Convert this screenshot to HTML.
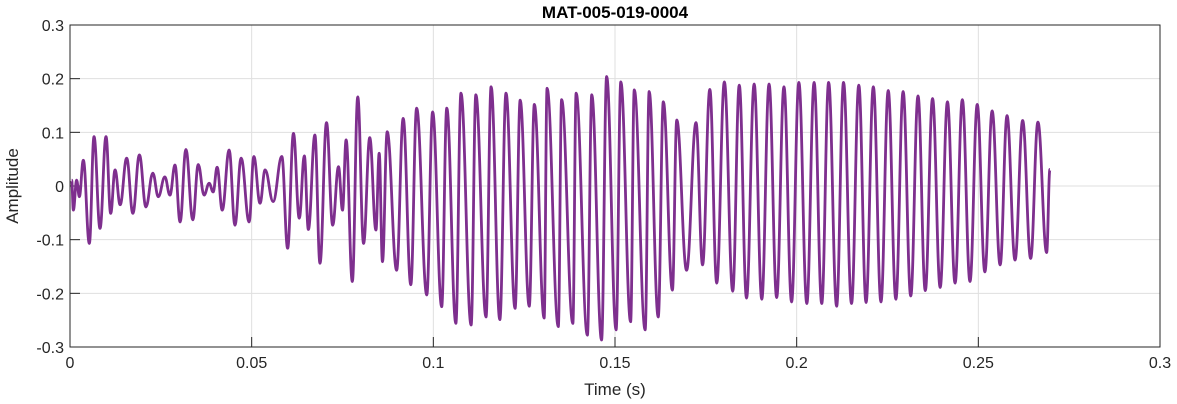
<!DOCTYPE html>
<html><head><meta charset="utf-8"><style>
body{margin:0;background:#fff;}
svg{display:block;font-family:"Liberation Sans",Arial,sans-serif;}
</style></head><body>
<svg id="chart" width="1177" height="404" viewBox="0 0 1177 404">
<rect x="70" y="25" width="1090" height="322" fill="#fff"/>
<g id="grid"></g>
<g id="ticks"></g>
<path id="wave" fill="none" stroke="#7E2F8E" stroke-width="2.8" stroke-linejoin="round"/>
<rect x="70" y="25" width="1090" height="322" fill="none" stroke="#262626" stroke-width="1"/>
<text x="615" y="18" text-anchor="middle" font-size="17" font-weight="bold" fill="#000">MAT-005-019-0004</text>
<text x="615" y="395" text-anchor="middle" font-size="17" fill="#262626">Time (s)</text>
<text transform="translate(18,186) rotate(-90)" text-anchor="middle" font-size="17" fill="#262626">Amplitude</text>
</svg>
<script>
const xTicks=[0,0.05,0.1,0.15,0.2,0.25,0.3];
const xTickLabels=["0","0.05","0.1","0.15","0.2","0.25","0.3"];
const yTicks=[-0.3,-0.2,-0.1,0,0.1,0.2,0.3];
const yTickLabels=["-0.3","-0.2","-0.1","0","0.1","0.2","0.3"];
// extrema times (ms) and amplitudes
const extremaTimeMs=[0.46,0.92,1.83,2.57,3.67,5.32,6.61,8.26,9.91,11.2,12.4,13.8,15.6,17.3,19.1,20.9,22.8,24.3,26.1,27.5,28.9,30.3,31.9,33.8,35.3,36.9,38.3,39.4,40.5,41.9,43.8,45.4,47.1,49.3,50.6,52.3,53.7,55.9,58.3,59.9,61.5,63.1,64.5,65.6,67.4,68.8,70.6,72.3,73.9,75.0,76.0,77.7,79.2,80.8,82.5,84.2,85.1,86.0,87.3,89.9,91.7,93.8,95.4,98.2,99.8,102.3,103.7,106.2,107.6,110.4,111.7,114.5,115.9,118.3,120.0,122.5,123.9,126.4,127.8,130.5,131.3,134.4,135.3,138.4,139.3,142.4,143.6,146.3,147.7,150.3,151.6,154.3,155.3,158.3,159.4,161.9,163.3,165.8,167.0,169.7,172.3,174.1,176.1,178.0,180.1,182.4,184.2,186.2,188.3,190.4,192.4,194.5,196.5,198.6,200.6,202.8,204.8,206.9,208.8,211.0,212.9,215.1,217.1,219.1,221.1,223.2,225.2,227.3,229.3,231.4,233.4,235.4,237.4,239.5,241.5,243.6,245.6,247.7,249.7,251.8,253.8,256.0,257.9,260.1,262.2,264.4,266.4,268.8,269.7];
const extremaAmplitude=[0.011,-0.045,0.011,-0.020,0.048,-0.107,0.092,-0.079,0.092,-0.051,0.030,-0.035,0.052,-0.051,0.058,-0.039,0.024,-0.020,0.017,-0.017,0.039,-0.067,0.068,-0.063,0.040,-0.017,0.005,-0.011,0.035,-0.045,0.067,-0.073,0.052,-0.067,0.055,-0.032,0.030,-0.029,0.055,-0.116,0.098,-0.060,0.056,-0.081,0.095,-0.144,0.118,-0.073,0.036,-0.045,0.086,-0.178,0.166,-0.107,0.090,-0.082,0.061,-0.141,0.101,-0.157,0.126,-0.184,0.145,-0.203,0.138,-0.225,0.145,-0.256,0.173,-0.259,0.170,-0.244,0.185,-0.249,0.173,-0.228,0.160,-0.224,0.152,-0.246,0.182,-0.262,0.161,-0.256,0.173,-0.278,0.170,-0.287,0.204,-0.268,0.194,-0.253,0.179,-0.268,0.176,-0.244,0.157,-0.194,0.123,-0.157,0.118,-0.147,0.180,-0.181,0.194,-0.196,0.188,-0.209,0.190,-0.211,0.190,-0.208,0.185,-0.216,0.193,-0.219,0.193,-0.219,0.193,-0.224,0.193,-0.219,0.188,-0.217,0.185,-0.216,0.178,-0.211,0.176,-0.205,0.168,-0.195,0.163,-0.189,0.157,-0.181,0.161,-0.178,0.152,-0.160,0.140,-0.147,0.131,-0.138,0.122,-0.135,0.119,-0.124,0.031];

const X0=70,X1=1160,Y0=347,Y1=25;
const xs=t=>X0+(t-0)/(0.3-0)*(X1-X0);
const ys=a=>Y0-(a+0.3)/0.6*(Y0-Y1);
const NS="http://www.w3.org/2000/svg";
const grid=document.getElementById('grid'),ticks=document.getElementById('ticks');
function mk(tag,attrs,parent){const e=document.createElementNS(NS,tag);for(const k in attrs)e.setAttribute(k,attrs[k]);parent.appendChild(e);return e;}
xTicks.forEach((v,i)=>{const x=xs(v);
 const g=mk('line',{x1:x,x2:x,y1:Y1,y2:Y0,stroke:'#dfdfdf','stroke-width':1},grid);
 
 
 const t=mk('line',{x1:x,x2:x,y1:Y0,y2:Y0-10,stroke:'#262626','stroke-width':1},ticks);
 
 
 const l=mk('text',{x:x,y:Y0+21,'text-anchor':'middle','font-size':16,fill:'#262626'},ticks);
 l.textContent=xTickLabels[i];
 
 
});
yTicks.forEach((v,i)=>{const y=ys(v);
 const g=mk('line',{x1:X0,x2:X1,y1:y,y2:y,stroke:'#dfdfdf','stroke-width':1},grid);
 
 
 const t=mk('line',{x1:X0,x2:X0+10,y1:y,y2:y,stroke:'#262626','stroke-width':1},ticks);
 
 
 const l=mk('text',{x:X0-6,y:y+6,'text-anchor':'end','font-size':16,fill:'#262626'},ticks);
 l.textContent=yTickLabels[i];
 
 
});
let d='';
for(let i=0;i<extremaTimeMs.length;i++){
 const x=xs(extremaTimeMs[i]/1000),y=ys(extremaAmplitude[i]);
 if(i===0){d+='M'+x.toFixed(2)+' '+y.toFixed(2);continue;}
 const px=xs(extremaTimeMs[i-1]/1000),py=ys(extremaAmplitude[i-1]);
 const h=(x-px)*0.4;
 d+=' C'+(px+h).toFixed(2)+' '+py.toFixed(2)+' '+(x-h).toFixed(2)+' '+y.toFixed(2)+' '+x.toFixed(2)+' '+y.toFixed(2);
}
document.getElementById('wave').setAttribute('d',d);
</script>
</body></html>
